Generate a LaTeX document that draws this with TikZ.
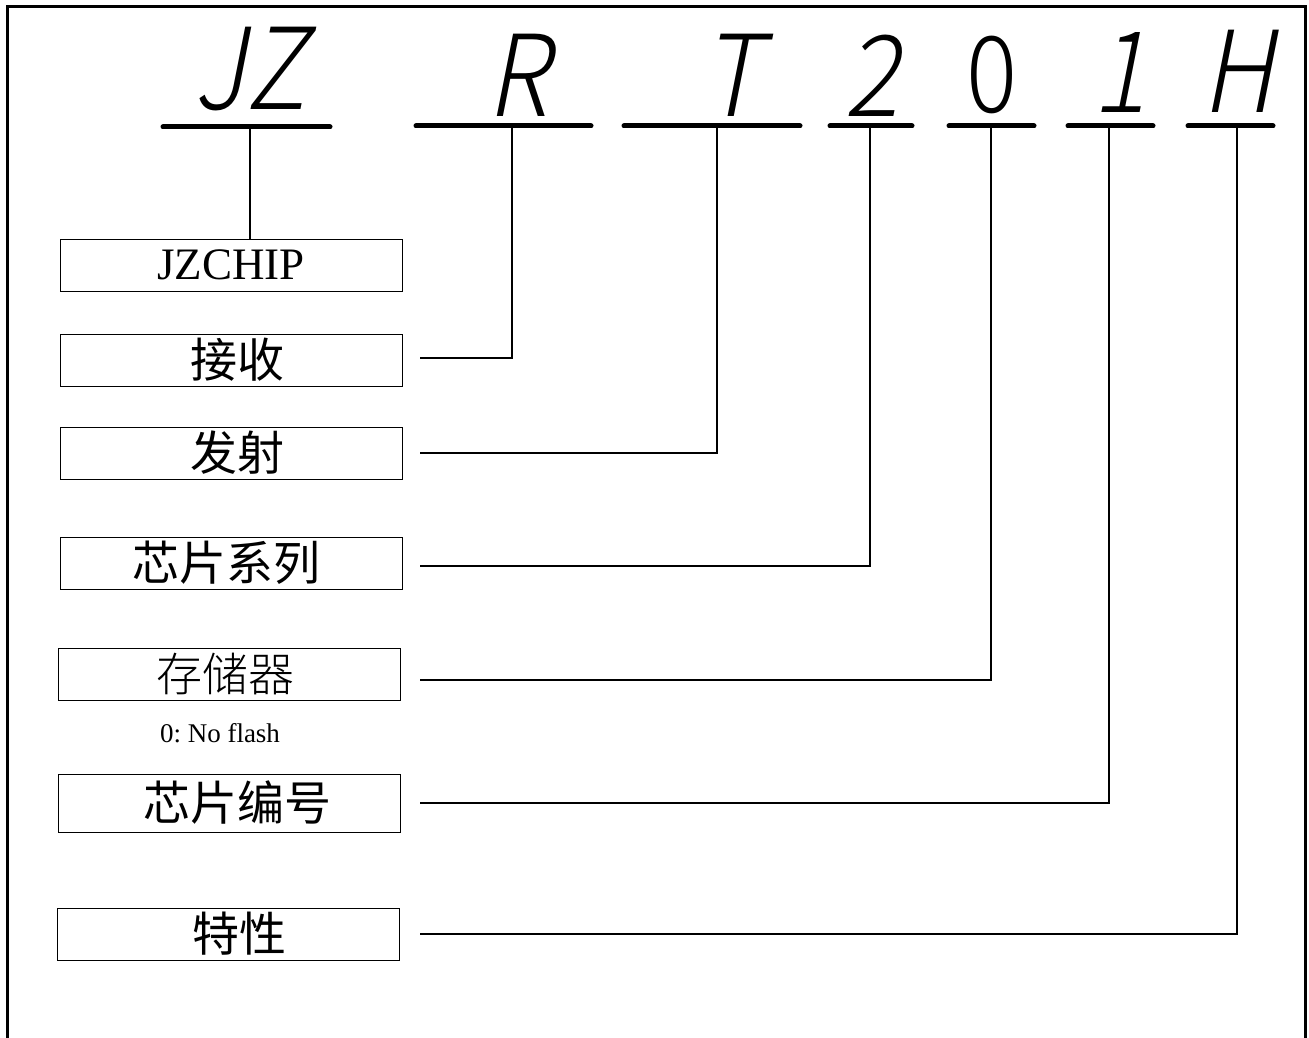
\documentclass[tikz,border=0pt]{standalone}
\usepackage{fontspec}
\setmainfont{Liberation Serif}
\newfontfamily\bigsans{Noto Sans CJK SC Light}[FakeSlant=0.22]
\newfontfamily\bigsansup{Noto Sans CJK SC Light}
\newfontfamily\cjk{Noto Sans CJK SC}
\newfontfamily\cjklight{Noto Sans CJK SC Light}
\begin{document}
\begin{tikzpicture}[x=1pt,y=-1pt,
  lbox/.style={draw,line width=1.4pt,minimum width=342pt,minimum height=52pt,inner sep=0pt,anchor=north west},
  cjktext/.style={font=\cjk\fontsize{47}{50}\selectfont},
  codeletter/.style={anchor=base,inner sep=0pt,font=\bigsans\fontsize{113}{113}\selectfont},
  codebar/.style={line width=5pt,line cap=round},
  conn/.style={line width=1.2pt}]
\useasboundingbox (0,0) rectangle (1309,1038);
\draw[line width=3pt] (7,1045) -- (7,7) -- (1305,7) -- (1305,1045);

% code letters
\node[codeletter] (lJZ) at (250,110) {\scalebox{0.9}[1]{JZ}};
\node[codeletter] (lR) at (517,117) {\scalebox{0.9}[1]{R}};
\node[codeletter] (lT) at (731,117) {\scalebox{0.9}[1]{T}};
\node[codeletter] (l2) at (872,117) {\scalebox{0.9}[1]{2}};
\node[codeletter,font=\bigsansup\fontsize{106}{106}\selectfont] (l0) at (992,113) {\scalebox{0.9}[1]{0}};
\node[codeletter] (l1) at (1120,113) {\scalebox{0.9}[1]{1}};
\node[codeletter] (lH) at (1238,113) {\scalebox{0.9}[1]{H}};

% bars
\draw[codebar] (163,127) -- (330,127); \coordinate (bJZ) at (250,127);
\draw[codebar] (416,126) -- (591,126); \coordinate (bR) at (512,126);
\draw[codebar] (624,126) -- (800,126); \coordinate (bT) at (717,126);
\draw[codebar] (830,126) -- (912,126); \coordinate (b2) at (870,126);
\draw[codebar] (949,126) -- (1034,126); \coordinate (b0) at (991,126);
\draw[codebar] (1068,126) -- (1153,126); \coordinate (b1) at (1109,126);
\draw[codebar] (1188,126) -- (1273,126); \coordinate (bH) at (1237,126);

% boxes
\node[lbox] (jz) at (60,239) {};
\node at (231,265) {\fontsize{45}{48}\selectfont JZCHIP};
\node[lbox] (rx) at (60,334) {};
\node[cjktext] at (237,360) {接收};
\node[lbox] (tx) at (60,427) {};
\node[cjktext] at (237,453) {发射};
\node[lbox] (ser) at (60,537) {};
\node[cjktext] at (226,563) {芯片系列};
\node[lbox] (mem) at (58,648) {};
\node[font=\cjklight\fontsize{46}{50}\selectfont] at (225,674) {存储器};
\node (memnote) at (220,733) {\fontsize{27}{30}\selectfont 0:~No~flash};
\node[lbox,minimum height=58pt] (num) at (58,774) {};
\node[cjktext] at (237,803) {芯片编号};
\node[lbox] (feat) at (57,908) {};
\node[cjktext] at (239,934) {特性};

% connector free ends
\coordinate (eR) at (420,358);
\coordinate (eT) at (420,453);
\coordinate (e2) at (420,566);
\coordinate (e0) at (420,680);
\coordinate (e1) at (420,803);
\coordinate (eH) at (420,934);

\draw[conn] (bJZ) -- (jz.north -| bJZ);
\draw[conn] (bR) |- (eR);
\draw[conn] (bT) |- (eT);
\draw[conn] (b2) |- (e2);
\draw[conn] (b0) |- (e0);
\draw[conn] (b1) |- (e1);
\draw[conn] (bH) |- (eH);
\end{tikzpicture}
\end{document}
